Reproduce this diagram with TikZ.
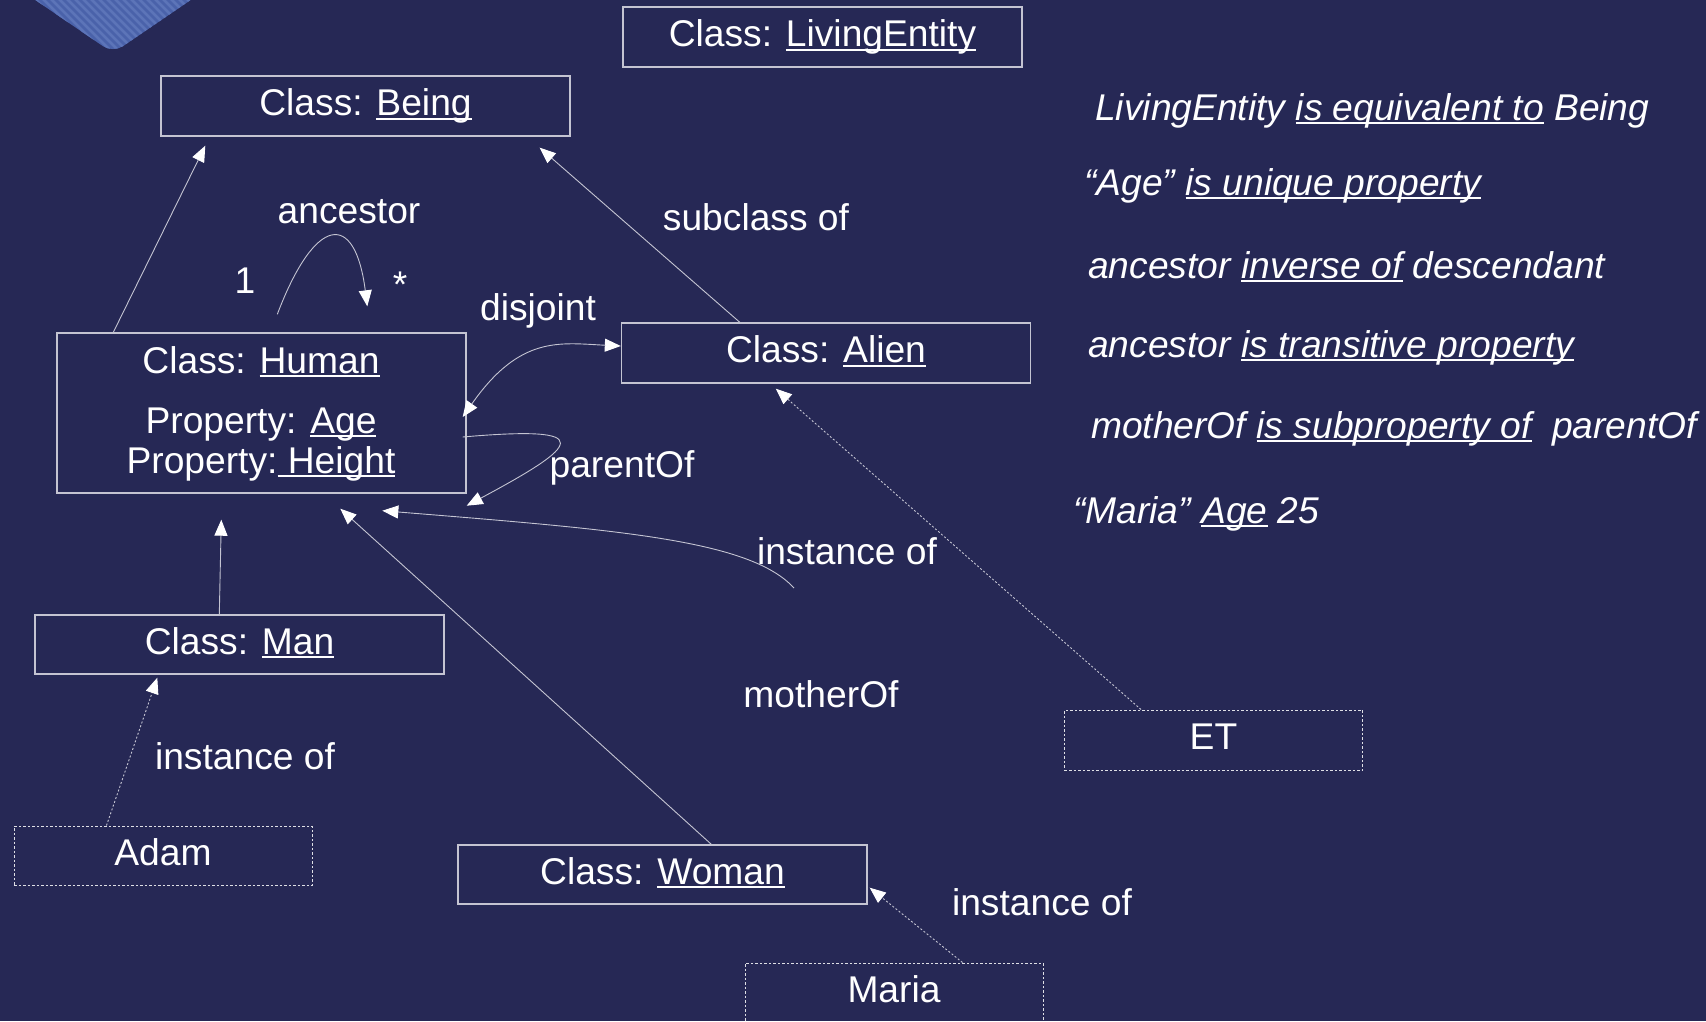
\documentclass[tikz,border=0pt]{standalone}
\usepackage{fontspec}
\setmainfont{Liberation Sans}
\usetikzlibrary{arrows.meta,calc}

\definecolor{bg}{RGB}{38,40,85}
\definecolor{edge}{RGB}{196,196,210}
\definecolor{tile}{RGB}{74,98,170}
\definecolor{tilestripe}{RGB}{92,116,184}

\newcommand\diagfont{\fontsize{37.2}{44}\selectfont}
% underline sitting just below the baseline
\newcommand\ulc[1]{\setbox0\hbox{#1}\rlap{\rule[-4pt]{\wd0}{2pt}}\box0\relax}

\tikzset{
  clsbox/.style={draw=edge, line width=1.4pt, minimum width=409pt, minimum height=60pt,
    text=white, font=\diagfont, inner sep=0pt, text height=27pt, text depth=8pt},
  instbox/.style={clsbox, draw=white!85!bg, line width=1pt, dash pattern=on 2.5pt off 2pt,
    minimum width=298pt},
  lbl/.style={text=white, font=\diagfont, inner sep=0pt},
  note/.style={lbl, font=\diagfont\itshape, anchor=base west},
  arr/.style={draw=edge, line width=0.9pt, -{Triangle[length=16pt,width=13pt,color=white]}},
  dblarr/.style={draw=edge, line width=0.9pt,
    {Triangle[length=16pt,width=13pt,color=white]}-{Triangle[length=16pt,width=13pt,color=white]}},
  dotarr/.style={arr, dash pattern=on 2pt off 2pt},
}

\begin{document}
\begin{tikzpicture}[x=1pt,y=-1pt]
  \clip (0,0) rectangle (1706,1021);
  \fill[bg] (0,0) rectangle (1706,1021);

  % striped corner tile
  \begin{scope}
    \clip[rounded corners=12pt] (6,-20) -- (113,53) -- (220,-20) -- cycle;
    \fill[tile] (0,-20) rectangle (230,60);
    \foreach \i in {-120,-112,...,240}
      \draw[tilestripe, line width=2.5pt] (\i,-20) -- ++(100,100);
  \end{scope}

  % classes
  \node[clsbox, minimum width=399pt] (living) at (822.5,37) {Class: \ulc{LivingEntity}};
  \node[clsbox] (being) at (365.5,106) {Class: \ulc{Being}};
  \node[clsbox, minimum height=160pt] (human) at (261.5,413) {};
  \node[lbl, anchor=base] (humanname) at (261,373) {Class: \ulc{Human}};
  \node[lbl, anchor=base] (humanage) at (261,433) {Property: \ulc{Age}};
  \node[lbl, anchor=base] (humanheight) at (261,473) {Property:\ulc{\ Height}};
  \node[clsbox] (alien) at (826,353) {Class: \ulc{Alien}};
  \node[clsbox, minimum height=59pt] (man) at (239.5,644.5) {Class: \ulc{Man}};
  \node[clsbox, minimum height=59pt] (woman) at (662.5,874.5) {Class: \ulc{Woman}};

  % individuals
  \node[instbox, minimum height=59pt] (adam) at (163,855.5) {Adam};
  \node[instbox] (et) at (1213.5,740) {ET};
  \node[instbox] (maria) at (894,993) {Maria};

  % subclass links
  \draw[arr] ($(human.north west)+(57,0)$) -- ($(being.south west)+(45,9)$);
  \draw[arr] ($(alien.north west)+(119,0)$) -- ($(being.south east)+(-31,11)$);
  \draw[arr] ($(man.north west)+(185,0)$) -- ($(human.south west)+(165,26)$);
  \draw[arr] ($(woman.north west)+(254,0)$) -- ($(human.south west)+(284,15)$);

  % properties
  \draw[arr] ($(human.north west)+(221,-18)$) .. controls (315,215) and (355,210) ..
    ($(human.north west)+(311,-26)$);
  \draw[dblarr] ($(alien.west)+(0,-7)$) .. controls (560,343) and (520,335) ..
    ($(human.east)+(-4,4)$);
  \draw[arr] ($(human.east)+(-4,24)$) .. controls (600,425) and (580,445) ..
    ($(human.south east)+(0,12)$);
  \coordinate (instfree) at (794,588);
  \draw[arr] (instfree) .. controls (750,540) and (620,530) ..
    ($(human.south west)+(326,17)$);

  % instance links
  \draw[dotarr] ($(adam.north west)+(93,0)$) -- ($(man.south west)+(123,3)$);
  \draw[dotarr] ($(et.north west)+(77,0)$) -- ($(alien.south west)+(155,5)$);
  \draw[dotarr] ($(maria.north west)+(218,0)$) -- ($(woman.south east)+(2,-17)$);

  % connector labels
  \node[lbl] (lancestor) at (349,212) {ancestor};
  \node[lbl] (lone) at (245,281) {1};
  \node[lbl] (lmany) at (400,285) {*};
  \node[lbl] (ldisjoint) at (538,311) {disjoint};
  \node[lbl] (lsubclass) at (756,217) {subclass of};
  \node[lbl] (lparent) at (622,468) {parentOf};
  \node[lbl] (linstance) at (847,551) {instance of};
  \node[lbl] (lmother) at (821,694) {motherOf};
  \node[lbl] (linstadam) at (245,756) {instance of};
  \node[lbl] (linstmaria) at (1042,902) {instance of};

  % axioms
  \node[note] (ax1) at (1095,120) {LivingEntity \ulc{is equivalent to} Being};
  \node[note] (ax2) at (1084,195) {“Age” \ulc{is unique property}};
  \node[note] (ax3) at (1088,278) {ancestor \ulc{inverse of} descendant};
  \node[note] (ax4) at (1088,357) {ancestor \ulc{is transitive property}};
  \node[note] (ax5) at (1091,438) {motherOf \ulc{is subproperty of}\ \ parentOf};
  \node[note] (ax6) at (1073,523) {“Maria” \ulc{Age} 25};
\end{tikzpicture}
\end{document}
